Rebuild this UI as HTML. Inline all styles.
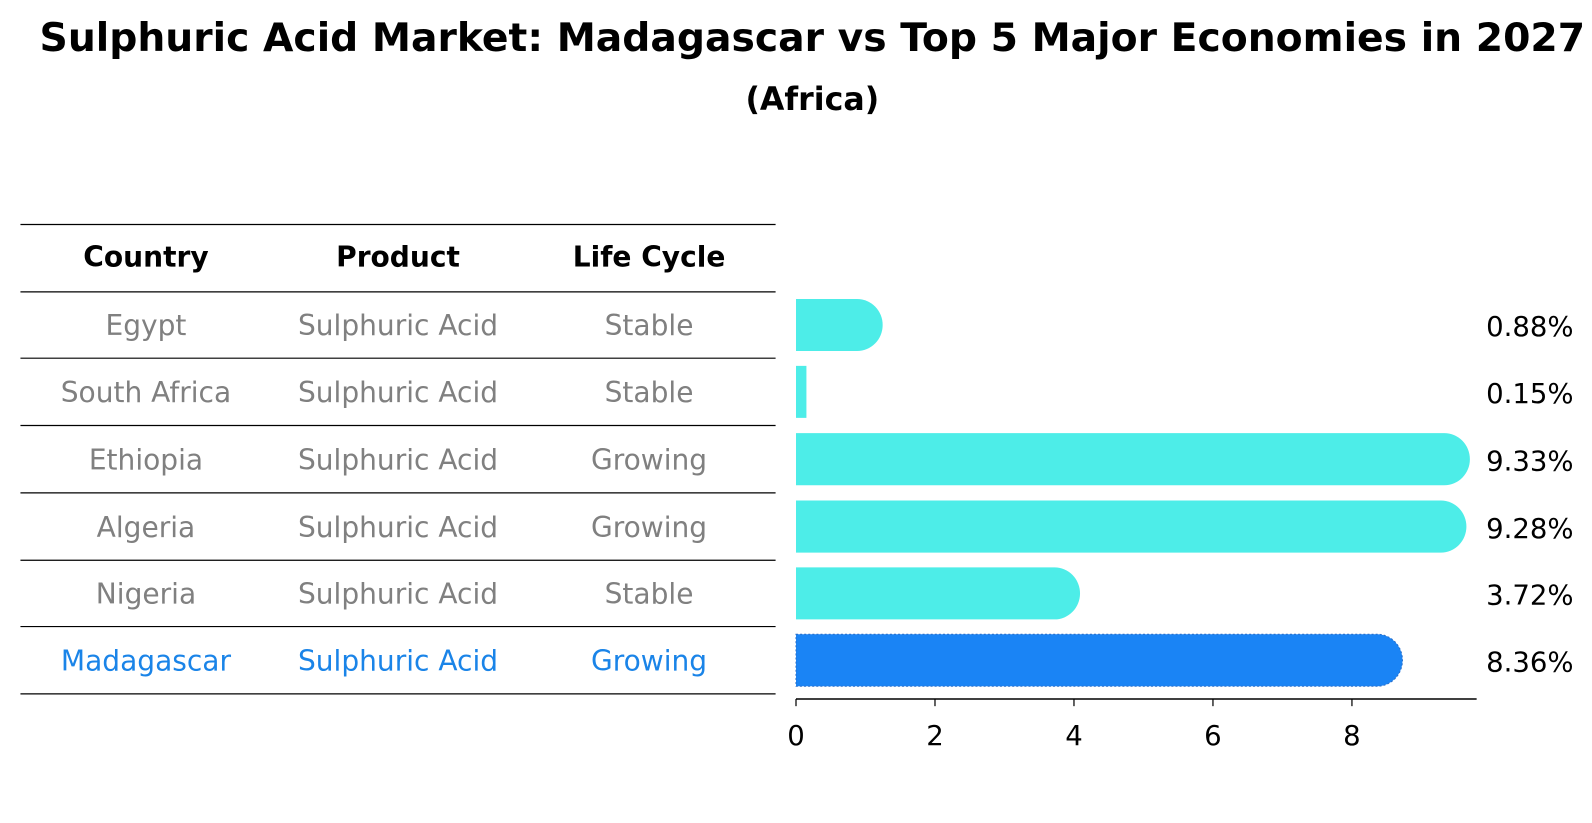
<!DOCTYPE html>
<html><head><meta charset="utf-8"><style>
body{margin:0;background:#fff;font-family:"DejaVu Sans","Liberation Sans",sans-serif;}
svg{display:block;}
</style></head><body>
<svg width="1592" height="823" viewBox="0 0 1560 806.5" xmlns="http://www.w3.org/2000/svg" font-family="DejaVu Sans, Liberation Sans, sans-serif">
<rect width="1560" height="807" fill="#fff"/>
<text x="796" y="50" text-anchor="middle" font-size="38.5" font-weight="bold">Sulphuric Acid Market: Madagascar vs Top 5 Major Economies in 2027</text>
<text x="796" y="108" text-anchor="middle" font-size="31" font-weight="bold">(Africa)</text>
<g id="table"></g>
<g id="bars"></g>
</svg>
<script>
const countries=["Egypt","South Africa","Ethiopia","Algeria","Nigeria","Madagascar"];
const products=["Sulphuric Acid","Sulphuric Acid","Sulphuric Acid","Sulphuric Acid","Sulphuric Acid","Sulphuric Acid"];
const lifeCycles=["Stable","Stable","Growing","Growing","Stable","Growing"];
const values=[0.88,0.15,9.33,9.28,3.72,8.36];
const valueLabels=["0.88%","0.15%","9.33%","9.28%","3.72%","8.36%"];
const ticks=[0,2,4,6,8];
const NS="http://www.w3.org/2000/svg";
function mk(t,a,p){const e=document.createElementNS(NS,t);for(const k in a)e.setAttribute(k,a[k]);p.appendChild(e);return e;}
const tbl=document.getElementById('table');
const lines=[220,286,351,417,483,549,614,680];
lines.forEach(y=>{const l=mk('line',{x1:20,x2:760,y1:y,y2:y,stroke:'#000','stroke-width':1.2},tbl);

});
const cx=[143,390,636];
["Country","Product","Life Cycle"].forEach((h,i)=>{const t=mk('text',{x:cx[i],y:261,'text-anchor':'middle','font-size':27.5,'font-weight':'bold'},tbl);t.textContent=h;

});
const rowY=i=>(lines[i+1]+lines[i+2])/2+10;
countries.forEach((c,i)=>{const col=i===5?'#1a84e8':'#808080';
[c,products[i],lifeCycles[i]].forEach((v,j)=>{const t=mk('text',{x:cx[j],y:rowY(i),'text-anchor':'middle','font-size':27.5,fill:col},tbl);t.textContent=v;

});});
const bg=document.getElementById('bars');
const x0=780,ppu=68.1;const xs=v=>x0+v*ppu;
const bh=51,r=25;
values.forEach((v,i)=>{const cy=(lines[i+1]+lines[i+2])/2;const y=cy-bh/2;const xe=xs(v);
const col=i===5?'#1a84f5':'#4dede8';
let d;
if(xe-x0<r){d=`M${x0},${y}H${xe}V${y+bh}H${x0}Z`;}
else{d=`M${x0},${y}H${xe}A${r},${bh/2} 0 0 1 ${xe},${y+bh}H${x0}Z`;}
const p=mk('path',{d:d,fill:col},bg);
if(i===5){p.setAttribute('stroke','#2b6fc9');p.setAttribute('stroke-dasharray','2,2');p.setAttribute('stroke-width','1');}


const t=mk('text',{x:1542,y:cy+11,'text-anchor':'end','font-size':27},bg);t.textContent=valueLabels[i];

});
const ax=mk('line',{x1:x0,x2:1447,y1:685,y2:685,stroke:'#000','stroke-width':1.5},bg);


ticks.forEach(v=>{const l=mk('line',{x1:xs(v),x2:xs(v),y1:685,y2:692,stroke:'#000','stroke-width':1.2},bg);


const t=mk('text',{x:xs(v),y:730,'text-anchor':'middle','font-size':27},bg);t.textContent=v;

});
</script>
</body></html>
